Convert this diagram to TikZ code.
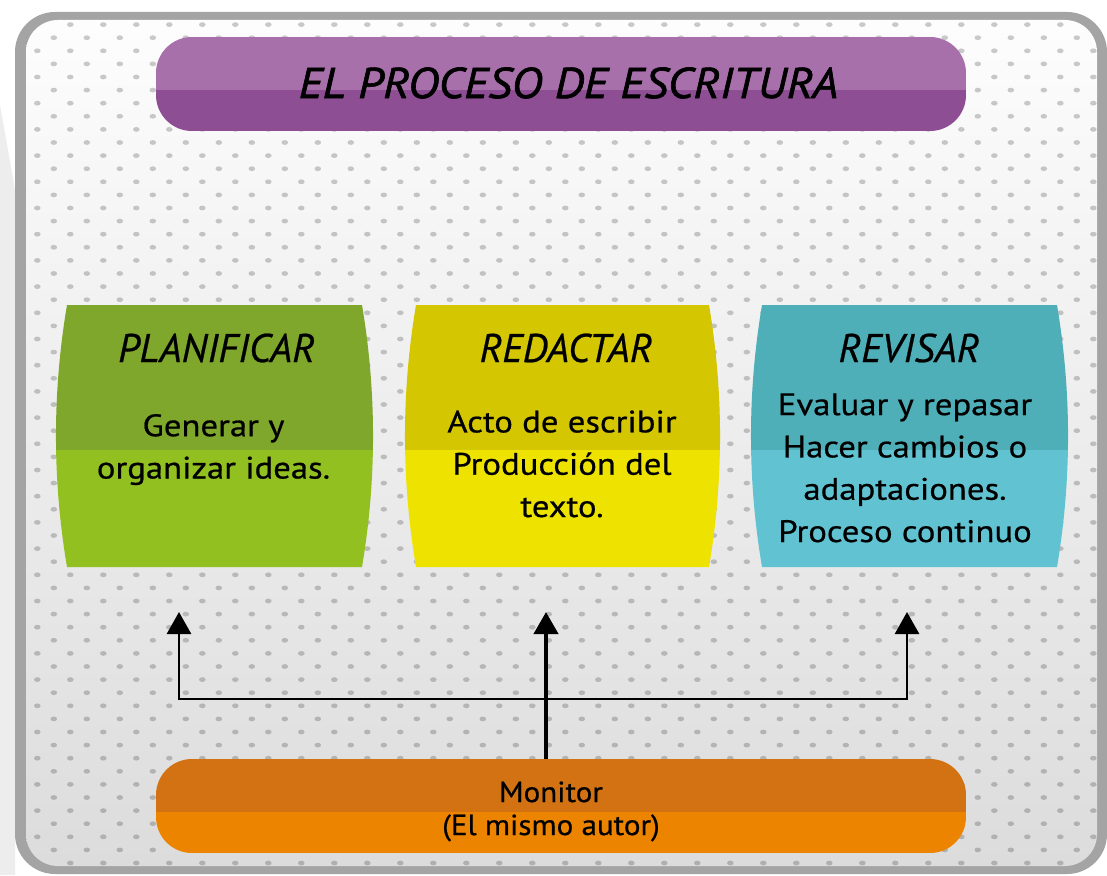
\documentclass[tikz,border=0pt]{standalone}
\usepackage{fontspec}
\setmainfont{PT Sans}
\newfontfamily\bodyf[FakeStretch=1.12,FakeBold=0.6]{PT Sans}
\newfontfamily\headf[FakeBold=0.6]{PT Sans}
\newfontfamily\monf[FakeStretch=1.07,FakeBold=0.6]{PT Sans}
\newfontfamily\titlef[FakeStretch=1.09,FakeBold=1.5]{PT Sans}
\usetikzlibrary{arrows.meta}
\definecolor{outbg}{HTML}{EDEDED}
\definecolor{framegray}{HTML}{A4A4A4}
\definecolor{innertop}{HTML}{FDFDFD}
\definecolor{innerbot}{HTML}{DCDCDC}
\definecolor{purpT}{HTML}{A870AA}
\definecolor{purpB}{HTML}{8E4E94}
\definecolor{greenT}{HTML}{7EA72C}
\definecolor{greenB}{HTML}{92C020}
\definecolor{yellT}{HTML}{D4C600}
\definecolor{yellB}{HTML}{EEE200}
\definecolor{tealT}{HTML}{4EAFB8}
\definecolor{tealB}{HTML}{61C3D2}
\definecolor{oranT}{HTML}{D27212}
\definecolor{oranB}{HTML}{ED8400}
\newcommand\barrelfill[4]{%
  \begin{scope}
    \clip (#1+11,305) -- (#2-11,305) .. controls (#2+3.7,392) and (#2+3.7,480) .. (#2-11,567)
      -- (#1+11,567) .. controls (#1-3.7,480) and (#1-3.7,392) .. cycle;
    \fill[#3] (#1-10,300) rectangle (#2+10,450);
    \fill[#4] (#1-10,450) rectangle (#2+10,572);
  \end{scope}}
\tikzset{
  pill/.style 2 args={rounded corners=36pt, minimum width=810pt, minimum height=94pt, inner sep=0pt,
    path picture={\fill[#1, sharp corners] (path picture bounding box.north west) rectangle ([yshift=-53pt]path picture bounding box.north east);
      \fill[#2, sharp corners] ([yshift=-53pt]path picture bounding box.north west) rectangle (path picture bounding box.south east);}},
  titletext/.style={font=\titlef\fontsize{43}{43}\selectfont\itshape, anchor=base, inner sep=0pt},
  head/.style={font=\headf\fontsize{40}{40}\selectfont\itshape, anchor=base, inner sep=0pt},
  body/.style={font=\bodyf\fontsize{31}{42.3}\selectfont, align=center, anchor=base, inner sep=0pt},
  montext/.style={font=\monf\fontsize{29}{33}\selectfont, align=center, anchor=base, inner sep=0pt},
  thickarrow/.style={line width=4pt, -{Triangle[width=24pt,length=22pt]}},
  thinarrows/.style={line width=2.7pt, miter limit=10, {Triangle[width=24pt,length=22pt]}-{Triangle[width=24pt,length=22pt]}}
}
\begin{document}
\begin{tikzpicture}[x=1pt,y=-1pt]
\useasboundingbox (0,0) rectangle (1107,875);
\fill[white] (0,0) rectangle (1107,875);
\fill[outbg] (0,105) -- (15,190) -- (15,875) -- (0,875) -- cycle;
% frame
\fill[framegray, rounded corners=40pt] (15,12) rectangle (1107,874);
\begin{scope}
  \clip[rounded corners=32pt] (26,20) rectangle (1097,866);
  \shade[top color=innertop, bottom color=innerbot] (26,20) rectangle (1097,866);
  \foreach \j in {-44,...,20} {
    \pgfmathsetmacro\yy{601+13.1*\j}
    \pgfmathsetmacro\off{mod(\j+100,2)*16.5}
    \pgfmathsetmacro\dk{21+10*(\j+44)/64}
    \foreach \k in {-8,...,25} {
      \fill[black!\dk] ({862.3-33*\k-\off},\yy) ellipse [x radius=3.3, y radius=2.4];
    }
  }
\end{scope}
% title
\node[pill={purpT}{purpB}] (titlebox) at (561,84) {};
\node[titletext] (title) at (568.5,98) {EL PROCESO DE ESCRITURA};
% three boxes
\barrelfill{56}{373}{greenT}{greenB}
\barrelfill{405}{720}{yellT}{yellB}
\barrelfill{751}{1068}{tealT}{tealB}
\node[head] (planT) at (216.5,362) {PLANIFICAR};
\node[body] (planB) at (213.5,478.5) {Generar y\\organizar ideas.};
\node[head] (redT) at (566,362) {REDACTAR};
\node[body] (redB) at (562,517) {Acto de escribir\\Producción del\\texto.};
\node[head] (revT) at (909,362) {REVISAR};
\node[body] (revB) at (905,542) {Evaluar y repasar\\Hacer cambios o\\adaptaciones.\\Proceso continuo};
% monitor
\node[pill={oranT}{oranB}] (monbox) at (561,806) {};
\node[montext] (mon) at (551,835) {Monitor\\(El mismo autor)};
% arrows
\coordinate (aL) at (179,612);
\coordinate (aC) at (546,612);
\coordinate (aR) at (907,612);
\coordinate (jL) at (179,699);
\coordinate (jR) at (907,699);
\draw[thickarrow] (monbox.north -| aC) -- (aC);
\draw[thinarrows] (aL) -- (jL) -- (jR) -- (aR);
\end{tikzpicture}
\end{document}
